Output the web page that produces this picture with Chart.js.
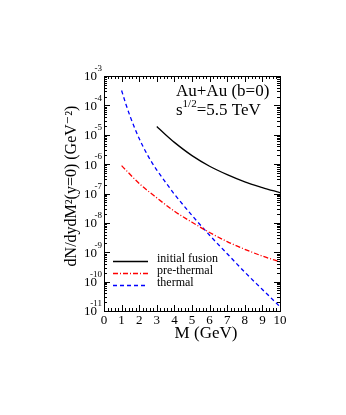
<!DOCTYPE html>
<html>
<head>
<meta charset="utf-8">
<script src="https://cdn.jsdelivr.net/npm/chart.js@4"></script>
<style>
  body { margin: 0; background: #fff; }
  #wrap { width: 346px; height: 415px; position: relative; }
</style>
</head>
<body>
<div id="wrap"><canvas id="dileptonChart"></canvas></div>
<script>
// Values (M in GeV, dN/dydM^2 in GeV^-2)
const fusionM = [3, 3.5, 4, 5, 6, 7, 8, 9, 10];
const fusionY = [1.9e-5, 1.0e-5, 5.5e-6, 1.95e-6, 8.5e-7, 4.4e-7, 2.5e-7, 1.6e-7, 1.07e-7];

const preThermalM = [1, 2, 3, 4, 5, 6, 7, 8, 9, 10];
const preThermalY = [8.9e-7, 2.2e-7, 7.1e-8, 2.5e-8, 1.05e-8, 4.7e-9, 2.3e-9, 1.26e-9, 7.4e-10, 4.7e-10];

const thermalM = [1, 1.25, 1.5, 1.75, 2, 2.5, 3, 3.5, 4, 5, 6, 7, 8, 9, 10];
const thermalY = [3.2e-4, 1.07e-4, 4.0e-5, 1.66e-5, 7.4e-6, 1.9e-6, 6.3e-7, 2.4e-7, 9.5e-8,
                  1.8e-8, 3.8e-9, 8.9e-10, 2.1e-10, 5.4e-11, 1.4e-11];

const xTicks = [0, 1, 2, 3, 4, 5, 6, 7, 8, 9, 10];
const yTickExponents = [-3, -4, -5, -6, -7, -8, -9, -10, -11];

const seriesLabels = ['initial fusion', 'pre-thermal', 'thermal'];
const seriesColors = ['#000000', '#ff0000', '#0000ff'];
const seriesDashes = [[], [5, 2, 1, 2], [4, 3]];

const serif = '"Liberation Serif", "DejaVu Serif", serif';

function toPoints(xs, ys) {
    return xs.map((x, i) => ({ x: x, y: ys[i] }));
}

// Draws frame, inward ticks, labels, titles, annotation and legend
const framePlugin = {
    id: 'framePlugin',
    afterDraw(chart) {
        const ctx = chart.ctx;
        const area = chart.chartArea;
        const xs = chart.scales.x;
        const ys = chart.scales.y;

        ctx.save();
        ctx.strokeStyle = '#000';
        ctx.lineWidth = 1;
        ctx.setLineDash([]);
        ctx.strokeRect(area.left + 0.5, area.top + 0.5, area.right - area.left, area.bottom - area.top);

        // x ticks (major every 1, minor every 0.2), bottom and top
        ctx.beginPath();
        for (let i = 0; i <= 50; i++) {
            const v = i * 0.2;
            const px = Math.round(xs.getPixelForValue(v)) + 0.5;
            const len = (i % 5 === 0) ? 6 : 3;
            ctx.moveTo(px, area.bottom);
            ctx.lineTo(px, area.bottom - len);
            ctx.moveTo(px, area.top);
            ctx.lineTo(px, area.top + len);
        }
        // y ticks (decades + minor), left and right
        for (let e = -11; e <= -3; e++) {
            for (let m = 1; m <= 9; m++) {
                if (e === -3 && m > 1) break;
                const py = Math.round(ys.getPixelForValue(m * Math.pow(10, e))) + 0.5;
                const len = (m === 1) ? 6 : 3;
                ctx.moveTo(area.left, py);
                ctx.lineTo(area.left + len, py);
                ctx.moveTo(area.right, py);
                ctx.lineTo(area.right - len, py);
            }
        }
        ctx.stroke();

        ctx.fillStyle = '#000';

        // x tick labels
        ctx.font = '13px ' + serif;
        ctx.textAlign = 'center';
        ctx.textBaseline = 'middle';
        xTicks.forEach(v => {
            ctx.fillText(String(v), xs.getPixelForValue(v), area.bottom + 10);
        });

        // y tick labels: 10 with superscript exponent
        yTickExponents.forEach(e => {
            const py = ys.getPixelForValue(Math.pow(10, e));
            ctx.font = '13px ' + serif;
            ctx.textAlign = 'right';
            ctx.textBaseline = 'middle';
            ctx.fillText('10', area.left - 7, py + 1);
            ctx.font = '9px ' + serif;
            ctx.fillText(String(e), area.left - 2, py - 7);
        });

        // axis titles
        ctx.font = '17px ' + serif;
        ctx.textAlign = 'center';
        ctx.textBaseline = 'middle';
        ctx.fillText('M (GeV)', 206, 334);

        ctx.save();
        ctx.translate(72, 186);
        ctx.rotate(-Math.PI / 2);
        ctx.font = '16px ' + serif;
        ctx.fillText('dN/dydM\u00b2(y=0) (GeV\u207b\u00b2)', 0, 0);
        ctx.restore();

        // annotation
        ctx.font = '17px ' + serif;
        ctx.textAlign = 'left';
        ctx.textBaseline = 'middle';
        ctx.fillText('Au+Au (b=0)', 176, 92);
        ctx.fillText('s', 176, 111);
        const sw = ctx.measureText('s').width;
        ctx.font = '11px ' + serif;
        ctx.fillText('1/2', 176 + sw, 104);
        const ew = ctx.measureText('1/2').width;
        ctx.font = '17px ' + serif;
        ctx.fillText('=5.5 TeV', 176 + sw + ew, 111);

        // legend
        const legendY = [260, 272, 284];
        ctx.font = '12px ' + serif;
        seriesLabels.forEach((label, i) => {
            ctx.strokeStyle = seriesColors[i];
            ctx.lineWidth = 1.3;
            ctx.setLineDash(seriesDashes[i]);
            ctx.beginPath();
            ctx.moveTo(113, legendY[i] + 1.5);
            ctx.lineTo(148, legendY[i] + 1.5);
            ctx.stroke();
            ctx.fillStyle = '#000';
            ctx.fillText(label, 157, legendY[i] - 1);
        });

        ctx.restore();
    }
};

const datasets = [
    toPoints(fusionM, fusionY),
    toPoints(preThermalM, preThermalY),
    toPoints(thermalM, thermalY)
].map((pts, i) => ({
    label: seriesLabels[i],
    data: pts,
    borderColor: seriesColors[i],
    borderDash: seriesDashes[i],
    borderWidth: 1.3,
    pointRadius: 0,
    fill: false,
    cubicInterpolationMode: 'monotone'
}));

new Chart(document.getElementById('dileptonChart').getContext('2d'), {
    type: 'line',
    data: { datasets: datasets },
    options: {
        responsive: true,
        maintainAspectRatio: false,
        animation: false,
        layout: { padding: { left: 104, top: 76, right: 66, bottom: 104 } },
        scales: {
            x: { type: 'linear', min: 0, max: 10, display: false },
            y: { type: 'logarithmic', min: 1e-11, max: 1e-3, display: false }
        },
        plugins: {
            legend: { display: false },
            tooltip: { enabled: false }
        }
    },
    plugins: [framePlugin]
});
</script>
</body>
</html>
